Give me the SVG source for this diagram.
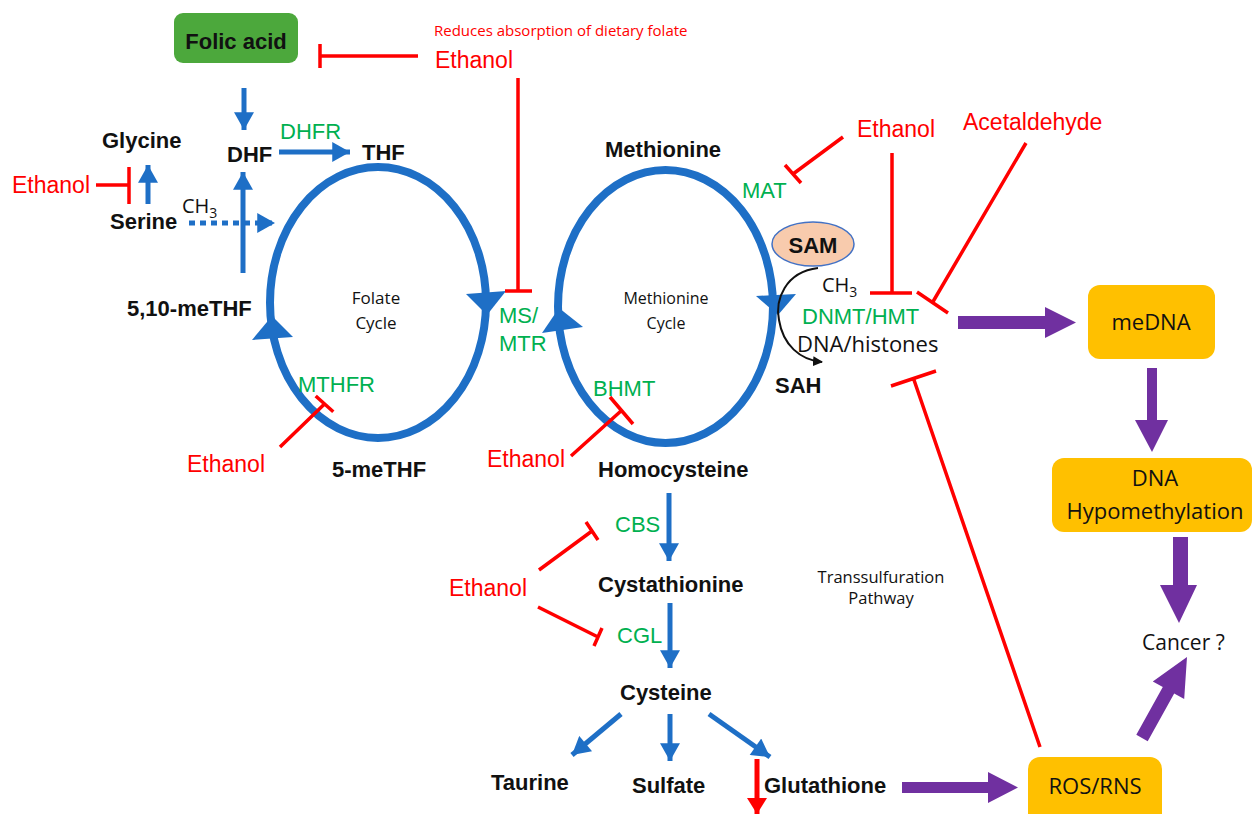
<svg xmlns="http://www.w3.org/2000/svg" width="1260" height="814" viewBox="0 0 1260 814">
<defs>
<style>
.b{font-family:"Liberation Sans",Arial,sans-serif;font-weight:bold;font-size:22px;fill:#111}
.r{font-family:"Liberation Sans",Arial,sans-serif;font-size:23px;fill:#ff0000}
.g{font-family:"Liberation Sans",Arial,sans-serif;font-size:22px;fill:#00b050}
.c{font-family:"Open Sans","Liberation Sans",sans-serif;fill:#111}
.blue{stroke:#1e6fc6;stroke-width:5;fill:none}
.inh{stroke:#ff0000;stroke-width:3.5;fill:none}
.cyc{stroke:#1e6fc6;stroke-width:8;fill:none}
.tri{fill:#1e6fc6}
.pur{fill:#7030a0}
.box{fill:#ffc000}
</style>
<marker id="bh" markerUnits="userSpaceOnUse" markerWidth="20" markerHeight="20" viewBox="0 0 16 18" refX="16" refY="9" orient="auto">
<path d="M0,0 L16,9 L0,18 z" fill="#1e6fc6"/>
</marker>
<marker id="rh" markerUnits="userSpaceOnUse" markerWidth="20" markerHeight="20" viewBox="0 0 16 20" refX="16" refY="10" orient="auto">
<path d="M0,0 L16,10 L0,20 z" fill="#ff0000"/>
</marker>
<marker id="kh" markerUnits="userSpaceOnUse" markerWidth="10" markerHeight="10" viewBox="0 0 10 10" refX="9" refY="5" orient="auto">
<path d="M0,0 L10,5 L0,10 z" fill="#111"/>
</marker>
</defs>
<rect width="1260" height="814" fill="#ffffff"/>

<g id="connectors">
<!-- cycles -->
<ellipse class="cyc" cx="378" cy="302.5" rx="108" ry="135.5"/>
<ellipse class="cyc" cx="665.5" cy="306.5" rx="107.5" ry="136.5"/>
<polygon class="tri" points="272,316 252,340 293,337"/>
<polygon class="tri" points="466,294 506,291 487,315"/>
<polygon class="tri" points="559,308 542,333 583,327"/>
<polygon class="tri" points="756,296 796,294 778,315"/>
<!-- blue arrows -->
<line class="blue" x1="244" y1="88" x2="244" y2="130" marker-end="url(#bh)"/>
<line class="blue" x1="148" y1="204" x2="148" y2="165" marker-end="url(#bh)"/>
<line class="blue" x1="189" y1="223" x2="275" y2="223" stroke-dasharray="6,5" marker-end="url(#bh)"/>
<line class="blue" x1="243" y1="273" x2="243" y2="172" marker-end="url(#bh)"/>
<line class="blue" x1="279" y1="152" x2="350" y2="152" marker-end="url(#bh)"/>
<line class="blue" x1="669" y1="493" x2="669" y2="561" marker-end="url(#bh)"/>
<line class="blue" x1="670" y1="603" x2="670" y2="668" marker-end="url(#bh)"/>
<line class="blue" x1="621" y1="714" x2="572" y2="755" marker-end="url(#bh)"/>
<line class="blue" x1="670" y1="714" x2="670" y2="761" marker-end="url(#bh)"/>
<line class="blue" x1="709" y1="714" x2="770" y2="757" marker-end="url(#bh)"/>
<line x1="757" y1="759" x2="757" y2="814" stroke="#ff0000" stroke-width="5" marker-end="url(#rh)"/>
<!-- black curved arrow -->
<path d="M818,268 C785,272 775,300 779,320 C783,345 800,360 822,362" stroke="#111" stroke-width="2" fill="none" marker-end="url(#kh)"/>
<!-- inhibitors -->
<path class="inh" d="M418,56 L320,56 M320,44 L320,68"/>
<path class="inh" d="M518,78 L518,291 M505,291 L532,291"/>
<path class="inh" d="M96,185 L129,185 M129,167 L129,204"/>
<path class="inh" d="M280,447 L324.5,404 M315.7,396 L333.3,411.7"/>
<path class="inh" d="M571,456 L621.5,410.5 M610,397 L633,424"/>
<path class="inh" d="M843,137 L793,174 M785,165 L801,183"/>
<path class="inh" d="M892,153 L892,293 M870,293 L912,293"/>
<path class="inh" d="M1026,143 L932.5,302.5 M917,292 L948,313"/>
<path class="inh" d="M1040,747 L913.5,378.5 M891,386 L936,371"/>
<path class="inh" d="M539,570 L592,531 M586,522 L598,540"/>
<path class="inh" d="M538,607 L598,637 M594,646 L602,628"/>
<!-- purple arrows -->
<polygon class="pur" points="958,316 1045,316 1045,307 1076,322.5 1045,338 1045,329 958,329"/>
<polygon class="pur" points="1147,368 1157,368 1157,420 1168,420 1152,452 1135,420 1147,420"/>
<polygon class="pur" points="1173,537 1188,537 1188,585 1197,585 1179,623 1160,585 1173,585"/>
<polygon class="pur" points="1136.3,734.8 1162.8,687 1152.8,681.5 1187,657 1184.2,698.9 1174.2,693.4 1147.7,741.2"/>
<polygon class="pur" points="902,782 988,782 988,772 1018,787.5 988,803 988,793 902,793"/>
</g>

<g id="folic-acid">
<rect x="174" y="13" width="124" height="50" rx="9" fill="#4ca83c"/>
<text class="b" x="236" y="49" text-anchor="middle">Folic acid</text>
</g>
<g id="ethanol-top">
<text x="434" y="36" font-family="Open Sans,Liberation Sans,sans-serif" font-size="15" fill="#ff0000">Reduces absorption of dietary folate</text>
<text class="r" x="435" y="68" font-size="24">Ethanol</text>
</g>
<g id="glycine"><text class="b" x="102" y="148">Glycine</text></g>
<g id="ethanol-serine"><text class="r" x="12" y="193">Ethanol</text></g>
<g id="serine"><text class="b" x="110" y="229">Serine</text></g>
<g id="ch3-left"><text class="c" x="182" y="213" font-size="20">CH<tspan font-size="14" dy="5">3</tspan></text></g>
<g id="dhf"><text class="b" x="227" y="162">DHF</text></g>
<g id="dhfr"><text class="g" x="280" y="139">DHFR</text></g>
<g id="thf"><text class="b" x="362" y="160">THF</text></g>
<g id="meTHF510"><text class="b" x="127" y="316">5,10-meTHF</text></g>
<g id="folate-cycle">
<text class="c" x="376" y="304" font-size="17" text-anchor="middle">Folate</text>
<text class="c" x="376" y="329" font-size="17" text-anchor="middle">Cycle</text>
</g>
<g id="methionine-cycle">
<text class="c" x="666" y="304" font-size="16" text-anchor="middle">Methionine</text>
<text class="c" x="666" y="329" font-size="16" text-anchor="middle">Cycle</text>
</g>
<g id="ms-mtr">
<text class="g" x="499" y="323">MS/</text>
<text class="g" x="499" y="351">MTR</text>
</g>
<g id="mthfr"><text class="g" x="298" y="392">MTHFR</text></g>
<g id="ethanol-mthfr"><text class="r" x="187" y="472" font-size="24">Ethanol</text></g>
<g id="meTHF5"><text class="b" x="332" y="477">5-meTHF</text></g>
<g id="bhmt"><text class="g" x="593" y="396">BHMT</text></g>
<g id="ethanol-bhmt"><text class="r" x="487" y="467">Ethanol</text></g>
<g id="homocysteine"><text class="b" x="598" y="477">Homocysteine</text></g>
<g id="methionine"><text class="b" x="605" y="157">Methionine</text></g>
<g id="mat"><text class="g" x="742" y="198">MAT</text></g>
<g id="ethanol-right"><text class="r" x="857" y="137" font-size="24">Ethanol</text></g>
<g id="acetaldehyde"><text class="r" x="963" y="130">Acetaldehyde</text></g>
<g id="sam">
<ellipse cx="813" cy="244" rx="41" ry="22" fill="#f8cbad" stroke="#4472c4" stroke-width="1.5"/>
<text class="b" x="813" y="253" text-anchor="middle">SAM</text>
</g>
<g id="ch3-right"><text class="c" x="822" y="292" font-size="20">CH<tspan font-size="14" dy="5">3</tspan></text></g>
<g id="dnmt"><text class="g" x="802" y="324">DNMT/HMT</text></g>
<g id="dna-histones"><text class="c" x="797" y="352" font-size="22">DNA/histones</text></g>
<g id="sah"><text class="b" x="775" y="393">SAH</text></g>
<g id="medna">
<rect class="box" x="1088" y="285" width="127" height="74" rx="12"/>
<text class="c" x="1151" y="330" font-size="22" text-anchor="middle">meDNA</text>
</g>
<g id="dna-hypo">
<rect class="box" x="1052" y="458" width="200" height="74" rx="12"/>
<text class="c" x="1155" y="486" font-size="22" text-anchor="middle">DNA</text>
<text class="c" x="1155" y="519" font-size="22" text-anchor="middle">Hypomethylation</text>
</g>
<g id="cancer"><text class="c" x="1142" y="650" font-size="21">Cancer ?</text></g>
<g id="ros">
<rect class="box" x="1028" y="757" width="134" height="70" rx="12"/>
<text class="c" x="1095" y="794" font-size="22" text-anchor="middle">ROS/RNS</text>
</g>
<g id="cbs"><text class="g" x="615" y="532">CBS</text></g>
<g id="ethanol-cbs"><text class="r" x="449" y="596">Ethanol</text></g>
<g id="cystathionine"><text class="b" x="598" y="592">Cystathionine</text></g>
<g id="cgl"><text class="g" x="617" y="643">CGL</text></g>
<g id="cysteine"><text class="b" x="620" y="700">Cysteine</text></g>
<g id="taurine"><text class="b" x="491" y="790">Taurine</text></g>
<g id="sulfate"><text class="b" x="632" y="793">Sulfate</text></g>
<g id="glutathione"><text class="b" x="764" y="793">Glutathione</text></g>
<g id="transsulfuration">
<text class="c" x="881" y="583" font-size="16.5" text-anchor="middle">Transsulfuration</text>
<text class="c" x="881" y="604" font-size="16.5" text-anchor="middle">Pathway</text>
</g>
</svg>
